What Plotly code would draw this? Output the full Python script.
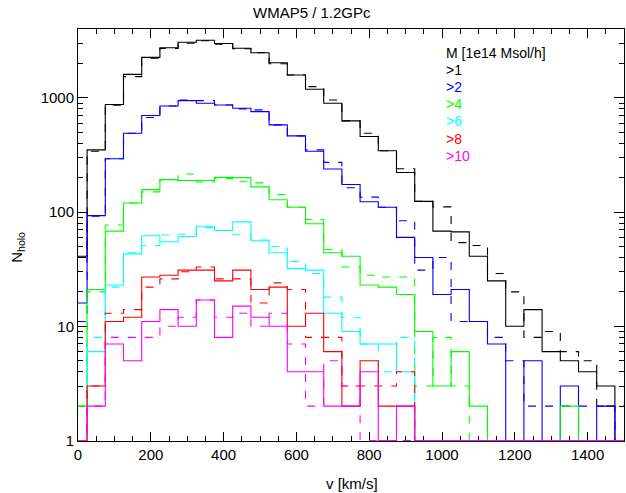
import numpy as np
import plotly.graph_objects as go

# bin centres (km/s), bin width 50
velocity = list(range(0, 1501, 50))

black_solid = [41, 350, 873, 1603, 2256, 2741, 3067, 3192, 2986, 2717, 2479, 2028, 1581, 1186, 896, 628,
               459, 344, 222, 124, 68, 67, 41, 25, 10, 14, 6, 5, 4, 3, 0]
black_dashed = [40, 340, 860, 1531, 2223, 2703, 3006, 3155, 2950, 2685, 2479, 1987, 1581, 1253, 957, 628,
                490, 344, 239, 124, 111, 54, 51, 29, 20, 8, 9, 6, 5, 2, 2]
blue_solid = [16, 93, 293, 490, 700, 847, 945, 896, 865, 809, 757, 579, 464, 340, 238, 174,
              123, 110, 60, 40, 19, 21, 11, 7, 0, 5, 0, 3, 0, 2, 0]
blue_dashed = [11, 92, 293, 490, 672, 847, 956, 945, 865, 800, 783, 579, 464, 350, 272, 163,
               135, 110, 84, 31, 40, 11, 11, 8, 5, 2, 2, 2, 2, 2, 0]
green_solid = [2, 21, 68, 120, 157, 192, 189, 189, 201, 200, 166, 128, 110, 79, 44, 41,
               23, 22, 19, 9, 3, 6, 2, 0, 0, 0, 0, 2, 0, 0, 0]
green_dashed = [2, 20, 77, 120, 150, 192, 215, 183, 196, 184, 180, 142, 110, 86, 47, 33,
                28, 27, 27, 3, 8, 3, 0, 0, 0, 0, 0, 0, 0, 0, 0]
cyan_solid = [0, 6, 23, 43, 62, 55, 61, 75, 69, 82, 56, 44, 32, 31, 13, 9,
              7, 7, 4, 0, 0, 0, 0, 0, 0, 0, 0, 0, 0, 0, 0]
cyan_dashed = [0, 8, 22, 44, 51, 63, 64, 73, 69, 64, 57, 50, 37, 29, 18, 12,
               7, 4, 8, 0, 0, 0, 0, 0, 0, 0, 0, 0, 0, 0, 0]
red_solid = [0, 3, 11, 12, 27, 28, 31, 31, 25, 31, 21, 22, 10, 13, 6, 2,
             5, 2, 2, 0, 0, 0, 0, 0, 0, 0, 0, 0, 0, 0, 0]
red_dashed = [0, 3, 13, 14, 22, 26, 30, 33, 26, 26, 16, 24, 21, 8, 8, 3,
              3, 3, 4, 0, 0, 0, 0, 0, 0, 0, 0, 0, 0, 0, 0]
magenta_solid = [0, 2, 7, 5, 11, 14, 10, 17, 8, 15, 12, 10, 4, 4, 2, 2,
                 4, 0, 2, 0, 0, 0, 0, 0, 0, 0, 0, 0, 0, 0, 0]
magenta_dashed = [0, 2, 8, 8, 8, 10, 12, 17, 12, 13, 10, 13, 7, 2, 5, 3,
                  0, 0, 0, 0, 0, 0, 0, 0, 0, 0, 0, 0, 0, 0, 0]

legend_title = "M [1e14 Msol/h]"
legend_labels = [">1", ">2", ">4", ">6", ">8", ">10"]
colors = ["#000000", "#0000ff", "#00ff00", "#00ffff", "#ff0000", "#ff00ff"]
series = [(black_solid, black_dashed), (blue_solid, blue_dashed), (green_solid, green_dashed),
          (cyan_solid, cyan_dashed), (red_solid, red_dashed), (magenta_solid, magenta_dashed)]

x_ticks = [0, 200, 400, 600, 800, 1000, 1200, 1400]
y_ticks = [1, 10, 100, 1000]

FONT = "Liberation Sans"

fig = go.Figure()
for (sol, das), col in zip(series, colors):
    for vals, dash in ((sol, "solid"), (das, "8px,9px")):
        y = np.maximum(np.array(vals, dtype=float), 1.0)  # empty bins sit on the axis floor
        fig.add_trace(go.Scatter(x=velocity, y=y, mode="lines",
                                 line=dict(color=col, width=1.1, dash=dash, shape="hvh"),
                                 showlegend=False, hoverinfo="skip"))

# plot-area geometry in pixels
L, R, T, B = 78, 624, 29, 441.5
W, H = 626, 493

def px(xp):
    return (xp - L) / (R - L)

def py(yp):
    return (B - yp) / (B - T)

ann = []
ann.append(dict(x=px(444), y=py(53), xref="paper", yref="paper", text=legend_title,
                showarrow=False, xanchor="left", yanchor="middle",
                font=dict(family=FONT, size=14, color="black")))
for i, (lab, col) in enumerate(zip(legend_labels, colors)):
    ann.append(dict(x=px(444), y=py(70 + 17.2 * i), xref="paper", yref="paper", text=lab,
                    showarrow=False, xanchor="left", yanchor="middle",
                    font=dict(family=FONT, size=14, color=col)))
ann.append(dict(x=px(352), y=py(484), xref="paper", yref="paper", text="v [km/s]",
                showarrow=False, xanchor="center", yanchor="middle",
                font=dict(family=FONT, size=15, color="black")))
ann.append(dict(x=px(18), y=py(248), xref="paper", yref="paper", text="N<sub>holo</sub>",
                showarrow=False, xanchor="center", yanchor="middle", textangle=-90,
                font=dict(family=FONT, size=15, color="black")))
ann.append(dict(x=px(312), y=py(12), xref="paper", yref="paper", text="WMAP5 / 1.2GPc",
                showarrow=False, xanchor="center", yanchor="middle",
                font=dict(family=FONT, size=15, color="black")))

fig.update_layout(
    width=W, height=H,
    margin=dict(l=L, r=W - R, t=T, b=H - B, pad=0, autoexpand=False),
    paper_bgcolor="white", plot_bgcolor="white",
    annotations=ann,
    font=dict(family=FONT, size=15, color="black"),
)
fig.update_xaxes(range=[0, 1500], showgrid=False, zeroline=False, showline=True,
                 linecolor="black", linewidth=1, mirror="allticks", ticks="inside",
                 ticklen=9, tickcolor="black", tickvals=x_ticks,
                 ticktext=[str(v) for v in x_ticks], automargin=False,
                 minor=dict(ticks="inside", ticklen=5, dtick=50, tickcolor="black", showgrid=False),
                 tickfont=dict(family=FONT, size=15, color="black"), layer="below traces")
fig.update_yaxes(type="log", range=[-0.004, np.log10(4000)], showgrid=False, zeroline=False,
                 showline=True, linecolor="black", linewidth=1, mirror="allticks",
                 ticks="inside", ticklen=10, tickcolor="black", tickvals=y_ticks,
                 ticktext=[str(v) for v in y_ticks], automargin=False,
                 minor=dict(ticks="inside", ticklen=5, dtick="D1", tickcolor="black", showgrid=False),
                 tickfont=dict(family=FONT, size=15, color="black"), layer="below traces")

fig.write_html("out.html", config={"displayModeBar": False},
               post_script="document.body.style.margin='0px';document.body.style.padding='0px';"
                           "document.documentElement.style.overflow='hidden';")
